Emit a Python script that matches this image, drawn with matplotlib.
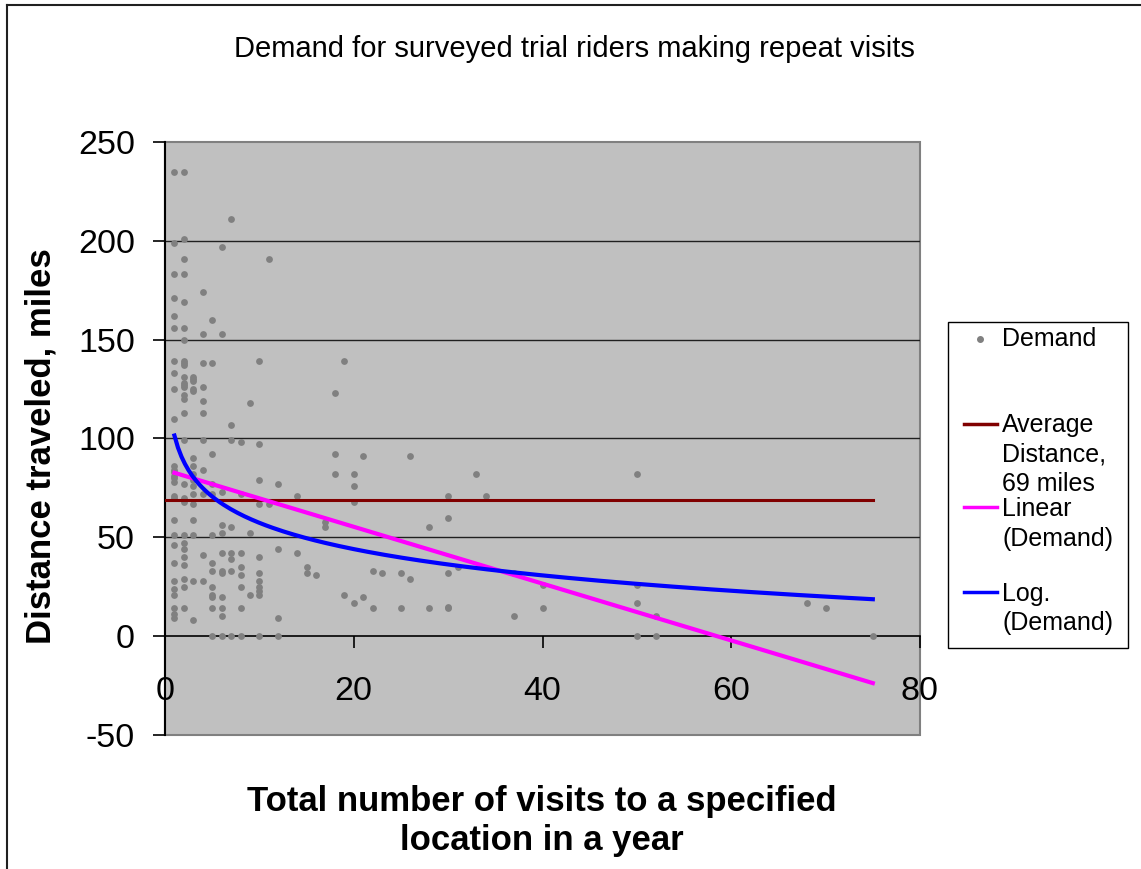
import numpy as np
import matplotlib.pyplot as plt
from matplotlib.lines import Line2D
from matplotlib.patches import Rectangle

plt.rcParams['font.family'] = ['Liberation Sans', 'DejaVu Sans']
plt.rcParams['axes.unicode_minus'] = False

# scatter data: visits per year (x) and distance traveled (y)
visits_1 = [1] * 28
dist_1 = [235, 199, 183, 171, 162, 156, 139, 133, 125, 110, 86, 83, 80, 78, 71,
          59, 51, 46, 37, 28, 24, 21, 14, 11, 9, 84, 81, 70]
visits_2 = [2] * 29
dist_2 = [235, 201, 191, 183, 169, 156, 150, 139, 138, 137, 131, 128, 127, 126,
          122, 120, 113, 99, 77, 70, 68, 51, 47, 44, 40, 36, 29, 25, 14]
visits_3 = [3] * 16
dist_3 = [131, 130, 129, 125, 124, 90, 86, 82, 76, 72, 67, 59, 51, 28, 8, 79]
visits_4 = [4] * 11
dist_4 = [174, 153, 138, 126, 119, 113, 99, 84, 72, 41, 28]
visits_5 = [5] * 13
dist_5 = [160, 138, 92, 77, 72, 51, 37, 33, 25, 21, 20, 14, 0]
visits_6 = [6] * 12
dist_6 = [197, 153, 73, 56, 52, 42, 33, 32, 20, 14, 10, 0]
visits_7 = [7] * 8
dist_7 = [211, 107, 99, 55, 42, 39, 33, 0]
visits_8 = [8] * 8
dist_8 = [98, 72, 42, 35, 31, 25, 14, 0]
visits_rest = [9, 9, 9,
               10, 10, 10, 10, 10, 10, 10, 10, 10, 10, 10,
               11, 11, 12, 12, 12, 12, 14, 14, 15, 15, 16, 17, 17,
               18, 18, 18, 19, 19, 20, 20, 20, 20, 21, 21, 22, 22, 23,
               25, 25, 26, 26, 28, 28, 30, 30, 30, 30, 30, 31, 33, 34,
               37, 37, 40, 40, 50, 50, 50, 50, 52, 52, 68, 70, 75]
dist_rest = [118, 52, 21,
             139, 97, 79, 67, 40, 32, 28, 25, 23, 21, 0,
             191, 67, 77, 44, 9, 0, 71, 42, 35, 32, 31, 58, 55,
             123, 92, 82, 139, 21, 82, 76, 68, 17, 91, 20, 33, 14, 32,
             32, 14, 91, 29, 55, 14, 71, 60, 32, 15, 14, 35, 82, 71,
             32, 10, 26, 14, 82, 26, 17, 0, 10, 0, 17, 14, 0]

visits = visits_1 + visits_2 + visits_3 + visits_4 + visits_5 + visits_6 + visits_7 + visits_8 + visits_rest
distance = dist_1 + dist_2 + dist_3 + dist_4 + dist_5 + dist_6 + dist_7 + dist_8 + dist_rest

avg_distance = 69
avg_x = [0, 75]
# trendlines as shown on the chart
lin_a, lin_b = 84.1, -1.438
log_c, log_d = 101.5, -19.18
trend_x = np.linspace(1, 75, 200)

fig = plt.figure(figsize=(11.41, 8.69), dpi=100)
W, H = 1141, 869
ax = fig.add_axes([165 / W, 1 - 735 / H, (920 - 165) / W, (735 - 142) / H])
ax.set_facecolor('#C0C0C0')

for y in [50, 100, 150, 200]:
    ax.axhline(y, color='#202020', lw=1.0, zorder=1)

ax.scatter(visits, distance, s=24, color='#808080', zorder=3, linewidths=0)
ax.plot(avg_x, [avg_distance, avg_distance], color='#800000', lw=2.2, zorder=4)
ax.plot(trend_x, lin_a + lin_b * trend_x, color='#FF00FF', lw=3, zorder=5)
ax.plot(trend_x, log_c + log_d * np.log(trend_x), color='#0000FF', lw=3, zorder=6)

ax.set_xlim(0, 80)
ax.set_ylim(-50, 250)
ax.set_xticks([0, 20, 40, 60, 80])
ax.set_yticks([-50, 0, 50, 100, 150, 200, 250])

for s in ['top', 'right']:
    ax.spines[s].set_visible(False)
ax.spines['bottom'].set_position(('data', 0))
ax.spines['bottom'].set_color('black')
ax.spines['bottom'].set_linewidth(1.2)
ax.spines['bottom'].set_zorder(2)
ax.spines['left'].set_color('black')
ax.spines['left'].set_linewidth(1.5)
ax.add_patch(Rectangle((0, 0), 1, 1, transform=ax.transAxes, fill=False,
                       edgecolor='#808080', lw=1.5, zorder=0.5, clip_on=False))

ax.tick_params(axis='x', direction='out', length=8.6, width=1.2, pad=20, labelsize=24.5)
ax.tick_params(axis='y', direction='out', length=8.6, width=1.2, pad=13, labelsize=24.5)

fig.text(574 / W, 1 - 49 / H, 'Demand for surveyed trial riders making repeat visits',
         ha='center', va='center', fontsize=21)
fig.text(41 / W, 1 - 446 / H, 'Distance traveled, miles', rotation=90,
         ha='center', va='center', fontsize=25, fontweight='bold')
fig.text(542 / W, 1 - 821 / H, 'Total number of visits to a specified\nlocation in a year',
         ha='center', va='center', fontsize=25, fontweight='bold', linespacing=1.25)

# legend drawn by hand to match the spreadsheet layout
fig.add_artist(Rectangle((948 / W, 1 - 648 / H), 180 / W, 326 / H, transform=fig.transFigure,
                         facecolor='white', edgecolor='black', lw=1.0))
fig.add_artist(Line2D([980 / W], [1 - 339 / H], marker='o', markersize=4, color='#808080',
                      transform=fig.transFigure))
legend_lines = [(424, '#800000'), (507, '#FF00FF'), (592, '#0000FF')]
for yy, c in legend_lines:
    fig.add_artist(Line2D([964 / W, 997 / W], [1 - yy / H] * 2, color=c, lw=2.5,
                          transform=fig.transFigure))
legend_texts = [(339, 'Demand'), (425, 'Average'), (454, 'Distance,'), (484, '69 miles'),
                (509, 'Linear'), (539, '(Demand)'), (594, 'Log.'), (623, '(Demand)')]
for yy, t in legend_texts:
    fig.text(1002 / W, 1 - yy / H, t, ha='left', va='center', fontsize=18)

# outer chart border (cropped on right and bottom)
fig.add_artist(Line2D([7 / W, 7 / W], [0, 1 - 5 / H], color='#202020', lw=1.5, transform=fig.transFigure))
fig.add_artist(Line2D([7 / W, 1], [1 - 5 / H, 1 - 5 / H], color='#202020', lw=1.5, transform=fig.transFigure))

plt.savefig('out.png', dpi=100)
